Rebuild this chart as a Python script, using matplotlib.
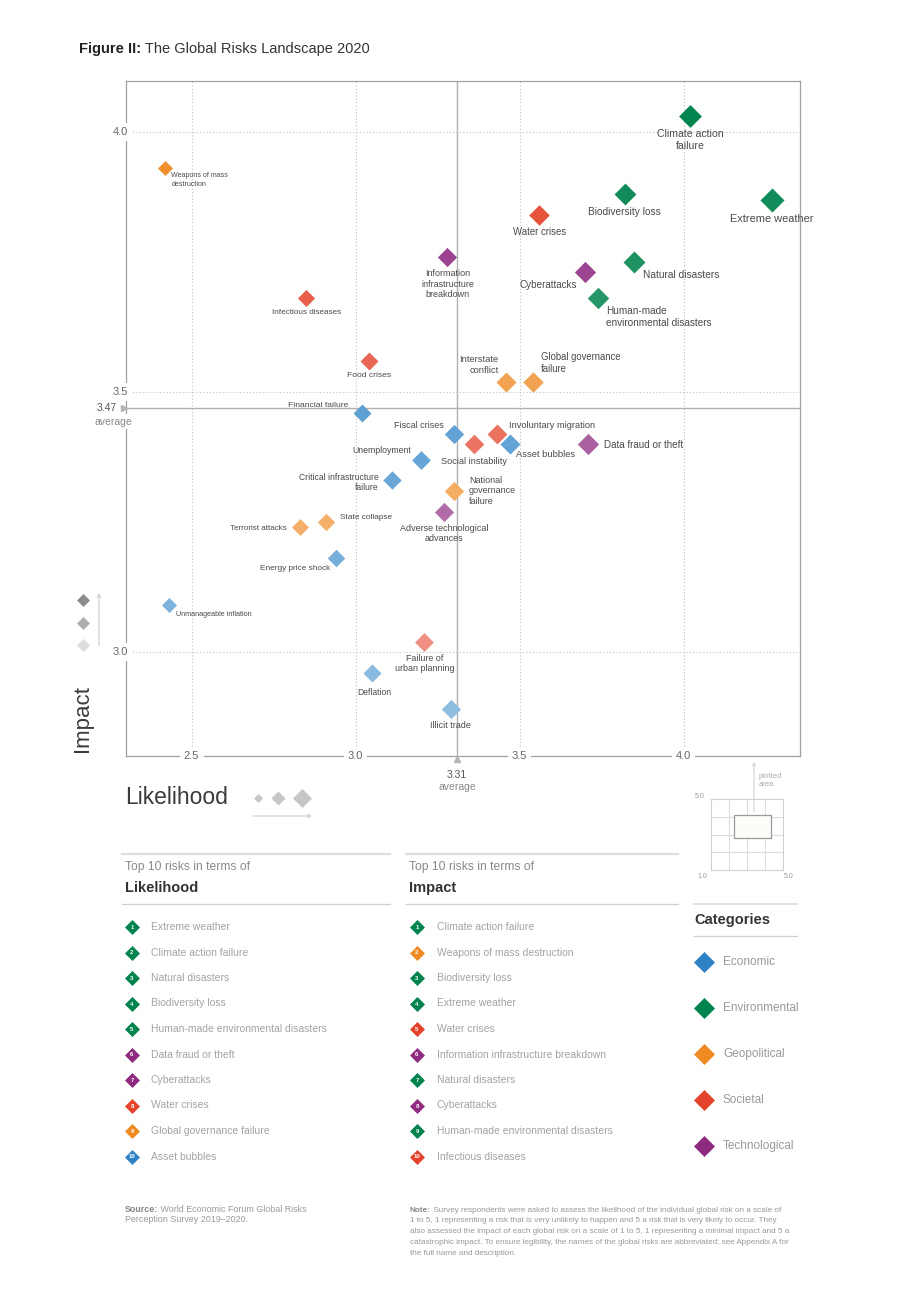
import numpy as np
import matplotlib
matplotlib.use('Agg')
import matplotlib.pyplot as plt
from matplotlib.patches import Rectangle
from matplotlib.colors import to_rgb

plt.rcParams['font.family'] = ['Liberation Sans', 'DejaVu Sans']

W, H = 920, 1302

CATEGORIES = ['Economic', 'Environmental', 'Geopolitical', 'Societal', 'Technological']
CAT_COLORS = {'Economic': '#2e83c6', 'Environmental': '#00834d', 'Geopolitical': '#ef8a22',
              'Societal': '#e4432b', 'Technological': '#8e2a80'}

RISKS = ['Climate action failure', 'Extreme weather', 'Biodiversity loss', 'Water crises',
         'Natural disasters', 'Cyberattacks', 'Human-made environmental disasters',
         'Information infrastructure breakdown', 'Infectious diseases', 'Weapons of mass destruction',
         'Food crises', 'Interstate conflict', 'Global governance failure', 'Financial failure',
         'Fiscal crises', 'Involuntary migration', 'Social instability', 'Asset bubbles',
         'Data fraud or theft', 'Unemployment', 'Critical infrastructure failure',
         'National governance failure', 'Adverse technological advances', 'State collapse',
         'Terrorist attacks', 'Energy price shock', 'Unmanageable inflation',
         'Failure of urban planning', 'Deflation', 'Illicit trade']
LIKELIHOOD = [4.02, 4.27, 3.82, 3.56, 3.85, 3.70, 3.74, 3.28, 2.85, 2.42,
              3.04, 3.46, 3.54, 3.02, 3.30, 3.43, 3.36, 3.47, 3.71, 3.20,
              3.11, 3.30, 3.27, 2.91, 2.83, 2.94, 2.43, 3.21, 3.05, 3.29]
IMPACT = [4.03, 3.87, 3.88, 3.84, 3.75, 3.73, 3.68, 3.76, 3.68, 3.93,
          3.56, 3.52, 3.52, 3.46, 3.42, 3.42, 3.40, 3.40, 3.40, 3.37,
          3.33, 3.31, 3.27, 3.25, 3.24, 3.18, 3.09, 3.02, 2.96, 2.89]
RISK_CAT = ['Environmental', 'Environmental', 'Environmental', 'Societal', 'Environmental',
            'Technological', 'Environmental', 'Technological', 'Societal', 'Geopolitical',
            'Societal', 'Geopolitical', 'Geopolitical', 'Economic', 'Economic',
            'Societal', 'Societal', 'Economic', 'Technological', 'Economic',
            'Economic', 'Geopolitical', 'Technological', 'Geopolitical', 'Geopolitical',
            'Economic', 'Economic', 'Societal', 'Economic', 'Economic']

AVG_LIKELIHOOD = 3.31
AVG_IMPACT = 3.47

TOP_LIKELIHOOD = ['Extreme weather', 'Climate action failure', 'Natural disasters', 'Biodiversity loss',
                  'Human-made environmental disasters', 'Data fraud or theft', 'Cyberattacks',
                  'Water crises', 'Global governance failure', 'Asset bubbles']
TOP_IMPACT = ['Climate action failure', 'Weapons of mass destruction', 'Biodiversity loss',
              'Extreme weather', 'Water crises', 'Information infrastructure breakdown',
              'Natural disasters', 'Cyberattacks', 'Human-made environmental disasters',
              'Infectious diseases']

# label text, dx, dy (pixels, up positive), ha, va
LABELS = {
    'Climate action failure': ('Climate action\nfailure', 0, -13, 'center', 'top'),
    'Extreme weather': ('Extreme weather', 0, -14, 'center', 'top'),
    'Biodiversity loss': ('Biodiversity loss', 0, -13, 'center', 'top'),
    'Water crises': ('Water crises', 0, -12, 'center', 'top'),
    'Natural disasters': ('Natural disasters', 9, -13, 'left', 'center'),
    'Cyberattacks': ('Cyberattacks', -8, -13, 'right', 'center'),
    'Human-made environmental disasters': ('Human-made\nenvironmental disasters', 8, -8, 'left', 'top'),
    'Information infrastructure breakdown': ('Information\ninfrastructure\nbreakdown', 0, -12, 'center', 'top'),
    'Infectious diseases': ('Infectious diseases', 0, -11, 'center', 'top'),
    'Weapons of mass destruction': ('Weapons of mass\ndestruction', 6, -4, 'left', 'top'),
    'Food crises': ('Food crises', 0, -11, 'center', 'top'),
    'Interstate conflict': ('Interstate\nconflict', -8, 7, 'right', 'bottom'),
    'Global governance failure': ('Global governance\nfailure', 8, 8, 'left', 'bottom'),
    'Financial failure': ('Financial failure', -14, 7, 'right', 'center'),
    'Fiscal crises': ('Fiscal crises', -10, 8, 'right', 'center'),
    'Involuntary migration': ('Involuntary migration', 12, 8, 'left', 'center'),
    'Social instability': ('Social instability', 0, -13, 'center', 'top'),
    'Asset bubbles': ('Asset bubbles', 6, -11, 'left', 'center'),
    'Data fraud or theft': ('Data fraud or theft', 16, -1, 'left', 'center'),
    'Unemployment': ('Unemployment', -10, 9, 'right', 'center'),
    'Critical infrastructure failure': ('Critical infrastructure\nfailure', -13, -2, 'right', 'center'),
    'National governance failure': ('National\ngovernance\nfailure', 15, 0, 'left', 'center'),
    'Adverse technological advances': ('Adverse technological\nadvances', 0, -12, 'center', 'top'),
    'State collapse': ('State collapse', 14, 4, 'left', 'center'),
    'Terrorist attacks': ('Terrorist attacks', -13, -1, 'right', 'center'),
    'Energy price shock': ('Energy price shock', -6, -10, 'right', 'center'),
    'Unmanageable inflation': ('Unmanageable inflation', 7, -9, 'left', 'center'),
    'Failure of urban planning': ('Failure of\nurban planning', 0, -12, 'center', 'top'),
    'Deflation': ('Deflation', 2, -15, 'center', 'top'),
    'Illicit trade': ('Illicit trade', 0, -12, 'center', 'top'),
}

NOTE = ('Survey respondents were asked to assess the likelihood of the individual global risk on a scale of\n'
        '1 to 5, 1 representing a risk that is very unlikely to happen and 5 a risk that is very likely to occur. They\n'
        'also assessed the impact of each global risk on a scale of 1 to 5, 1 representing a minimal impact and 5 a\n'
        'catastrophic impact. To ensure legibility, the names of the global risks are abbreviated; see Appendix A for\n'
        'the full name and description.')
SOURCE = 'World Economic Forum Global Risks\nPerception Survey 2019–2020.'


def px_to_s(w_px):
    # 'D' marker: tip-to-tip width = sqrt(2) * markersize
    m_pt = w_px / np.sqrt(2) * 72 / 100
    return m_pt ** 2


def marker_size(lik):
    return px_to_s(15 + (lik - 2.42) * 4.9)


def label_size(lik):
    return 5.8 + (lik - 2.83) * 1.5


def shade(cat, imp):
    base = np.array(to_rgb(CAT_COLORS[cat]))
    t = np.clip((4.05 - imp) / 1.25, 0, 1) * 0.5
    return tuple(base * (1 - t) + t)


fig = plt.figure(figsize=(W / 100, H / 100), dpi=100)
fig.patch.set_facecolor('white')

# main scatter
ax = fig.add_axes([126 / W, 1 - 756 / H, 674 / W, 675 / H])
ax.set_xlim(2.3, 4.355)
ax.set_ylim(2.8, 4.098)
ax.set_xticks([])
ax.set_yticks([])
for s in ax.spines.values():
    s.set_color('#a0a0a0')
    s.set_linewidth(0.9)

for v in [2.5, 3.0, 3.5, 4.0]:
    ax.axvline(v, color='#c0c0c0', lw=0.8, ls=(0, (1, 2)), zorder=1)
for v in [3.0, 3.5, 4.0]:
    ax.axhline(v, color='#c0c0c0', lw=0.8, ls=(0, (1, 2)), zorder=1)
ax.axvline(AVG_LIKELIHOOD, color='#b0b0b0', lw=1, zorder=1)
ax.axhline(AVG_IMPACT, color='#b0b0b0', lw=1, zorder=1)

order = np.argsort(IMPACT)
for i in order:
    ax.scatter(LIKELIHOOD[i], IMPACT[i], s=marker_size(LIKELIHOOD[i]), marker='D',
               color=shade(RISK_CAT[i], IMPACT[i]), linewidths=0, zorder=3)

for name, lik, imp in zip(RISKS, LIKELIHOOD, IMPACT):
    txt, dx, dy, ha, va = LABELS[name]
    ax.annotate(txt, (lik, imp), xytext=(dx, dy), textcoords='offset pixels',
                ha=ha, va=va, fontsize=label_size(lik), color='#4a4a4a', linespacing=1.25, zorder=4)

tick_box = dict(fc='white', ec='none', pad=3)
for v in [2.5, 3.0, 3.5, 4.0]:
    ax.text(v, 0, f'{v:.1f}', transform=ax.get_xaxis_transform(), ha='center', va='center',
            fontsize=8, color='#666666', bbox=tick_box, clip_on=False, zorder=5)
for v in [3.0, 3.5, 4.0]:
    ax.text(-0.009, v, f'{v:.1f}', transform=ax.get_yaxis_transform(), ha='center', va='center',
            fontsize=8, color='#666666', bbox=tick_box, clip_on=False, zorder=5)

# average markers
yt = ax.get_yaxis_transform()
xt = ax.get_xaxis_transform()
ax.annotate('average', (0, AVG_IMPACT), xycoords=yt, xytext=(-13, -14), textcoords='offset pixels',
            ha='center', va='center', fontsize=7.5, color='#888888',
            bbox=dict(fc='white', ec='none', pad=1.5), annotation_clip=False, zorder=5)
ax.annotate(f'{AVG_IMPACT:.2f}', (0, AVG_IMPACT), xycoords=yt, xytext=(-19, 0), textcoords='offset pixels',
            ha='center', va='center', fontsize=7.5, color='#555555',
            bbox=dict(fc='white', ec='none', pad=1.5), annotation_clip=False, zorder=5)
ax.plot([-0.003], [AVG_IMPACT], marker='>', ms=5, color='#b4b4b4', transform=yt,
        clip_on=False, zorder=6, lw=0)
ax.plot([AVG_LIKELIHOOD], [-0.005], marker='^', ms=5, color='#b4b4b4', transform=xt,
        clip_on=False, zorder=6, lw=0)
ax.annotate(f'{AVG_LIKELIHOOD:.2f}', (AVG_LIKELIHOOD, 0), xycoords=xt, xytext=(0, -19),
            textcoords='offset pixels', ha='center', va='center', fontsize=7.5, color='#555555',
            annotation_clip=False)
ax.annotate('average', (AVG_LIKELIHOOD, 0), xycoords=xt, xytext=(0, -31),
            textcoords='offset pixels', ha='center', va='center', fontsize=7.5, color='#888888',
            annotation_clip=False)

# inset: plotted area
ins = fig.add_axes([711 / W, 1 - 870 / H, 72 / W, 71 / H])
ins.set_xlim(1, 5)
ins.set_ylim(1, 5)
ins.set_xticks([])
ins.set_yticks([])
for v in [2, 3, 4]:
    ins.axvline(v, color='#dddddd', lw=0.8)
    ins.axhline(v, color='#dddddd', lw=0.8)
for s in ins.spines.values():
    s.set_color('#d0d0d0')
    s.set_linewidth(0.8)
x0, x1 = ax.get_xlim()
y0, y1 = ax.get_ylim()
ins.add_patch(Rectangle((x0, y0), x1 - x0, y1 - y0, fc='#fdfcf9', ec='#9a9a9a', lw=0.9, zorder=3))

# canvas for everything else, pixel coordinates
cv = fig.add_axes([0, 0, 1, 1])
cv.set_xlim(0, W)
cv.set_ylim(H, 0)
cv.axis('off')

t = cv.text(79, 56, 'Figure II:', fontsize=10.5, fontweight='bold', color='#222222', ha='left', va='bottom')
cv.annotate(' The Global Risks Landscape 2020', xy=(1, 0), xycoords=t, ha='left', va='bottom',
            fontsize=10.5, color='#333333')

cv.text(83, 718, 'Impact', rotation=90, fontsize=16, color='#3a3a3a', ha='center', va='center')
cv.text(125, 798, 'Likelihood', fontsize=16.5, color='#3a3a3a', ha='left', va='center')

# impact legend (colour intensity)
for yy, col in zip([600, 623, 645], ['#8c8c8c', '#adadad', '#dcdcdc']):
    cv.scatter(83, yy, s=px_to_s(13), marker='D', color=col, linewidths=0)
cv.annotate('', xy=(99, 593), xytext=(99, 646),
            arrowprops=dict(arrowstyle='->', color='#cccccc', lw=0.8, shrinkA=0, shrinkB=0,
                            mutation_scale=6))
# likelihood legend (size)
for xx, w in zip([258, 278, 302], [9, 14, 19]):
    cv.scatter(xx, 798, s=px_to_s(w), marker='D', color='#c6c6c6', linewidths=0)
cv.annotate('', xy=(312, 816), xytext=(253, 816),
            arrowprops=dict(arrowstyle='->', color='#cccccc', lw=0.8, shrinkA=0, shrinkB=0,
                            mutation_scale=6))

# inset labels
cv.text(700, 796, '5.0', fontsize=5, color='#999999', ha='center', va='center')
cv.text(702, 877, '1.0', fontsize=5, color='#999999', ha='center', va='center')
cv.text(789, 877, '5.0', fontsize=5, color='#999999', ha='center', va='center')
cv.annotate('', xy=(754, 762), xytext=(754, 812),
            arrowprops=dict(arrowstyle='->', color='#cccccc', lw=0.7, shrinkA=0, shrinkB=0,
                            mutation_scale=5))
cv.text(759, 780, 'plotted\narea', fontsize=5.5, color='#aaaaaa', ha='left', va='center',
        linespacing=1.2)

# top 10 lists
cat_of = dict(zip(RISKS, RISK_CAT))


def draw_list(x_line0, x_line1, x_dia, x_txt, title, items):
    cv.plot([x_line0, x_line1], [854, 854], color='#dddddd', lw=1.6)
    cv.text(x_line0 + 3, 867, 'Top 10 risks in terms of', fontsize=8.7, color='#8a8a8a', va='center')
    cv.text(x_line0 + 3, 888, title, fontsize=10.5, fontweight='bold', color='#333333', va='center')
    cv.plot([x_line0, x_line1], [904, 904], color='#cfcfcf', lw=0.9)
    for k, name in enumerate(items):
        yy = 927 + k * 25.5
        cv.scatter(x_dia, yy, s=px_to_s(15), marker='D', color=CAT_COLORS[cat_of[name]], linewidths=0)
        cv.text(x_dia, yy + 0.5, str(k + 1), fontsize=4.3, color='white', ha='center', va='center',
                fontweight='bold')
        cv.text(x_txt, yy, name, fontsize=7.5, color='#a3a3a3', va='center')


draw_list(122, 390, 132, 151, 'Likelihood', TOP_LIKELIHOOD)
draw_list(406, 678, 417, 437, 'Impact', TOP_IMPACT)

# categories legend
cv.plot([694, 797], [904, 904], color='#dddddd', lw=1.2)
cv.text(694, 920, 'Categories', fontsize=10.5, fontweight='bold', color='#333333', va='center')
cv.plot([694, 797], [936, 936], color='#cfcfcf', lw=0.9)
for k, cat in enumerate(CATEGORIES):
    yy = 962 + k * 46
    cv.scatter(704, yy, s=px_to_s(21), marker='D', color=CAT_COLORS[cat], linewidths=0)
    cv.text(723, yy, cat, fontsize=8.5, color='#999999', va='center')

# footer
s1 = cv.text(125, 1214, 'Source:', fontsize=6.4, fontweight='bold', color='#888888', ha='left', va='bottom')
cv.annotate(' ' + SOURCE.split('\n')[0], xy=(1, 0), xycoords=s1, ha='left', va='bottom',
            fontsize=6.4, color='#999999')
cv.text(125, 1220, SOURCE.split('\n')[1], fontsize=6.4, color='#999999', ha='left', va='center')

note_lines = NOTE.split('\n')
n1 = cv.text(410, 1214, 'Note:', fontsize=5.85, fontweight='bold', color='#888888', ha='left', va='bottom')
cv.annotate(' ' + note_lines[0], xy=(1, 0), xycoords=n1, ha='left', va='bottom',
            fontsize=5.85, color='#999999')
for k, line in enumerate(note_lines[1:]):
    cv.text(410, 1220 + k * 11.2, line, fontsize=5.85, color='#999999', ha='left', va='center')

fig.savefig('out.png', dpi=100, facecolor='white')
